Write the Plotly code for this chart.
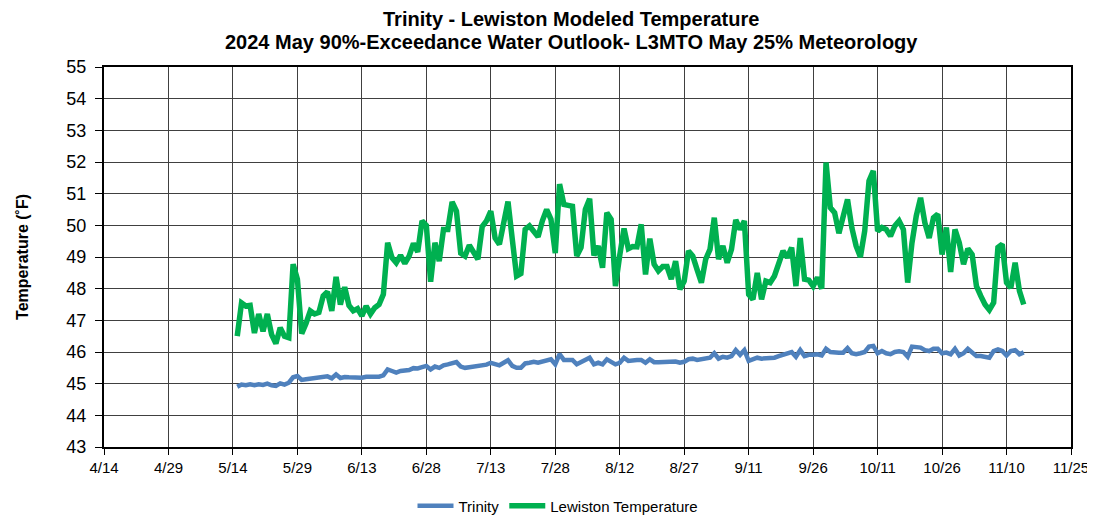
import pandas as pd
import plotly.graph_objects as go

# daily model output, 2024-05-15 .. 2024-11-14
start_date = "2024-05-15"
end_date = "2024-11-14"

trinity = [
    44.90, 44.97, 44.95, 44.98, 44.95, 44.98, 44.96, 45.00, 44.95, 44.93,
    45.01, 44.97, 45.03, 45.20, 45.24, 45.12, 45.14, 45.16, 45.16, 45.18,
    45.21, 45.23, 45.17, 45.29, 45.18, 45.21, 45.20, 45.19, 45.18, 45.19,
    45.22, 45.22, 45.21, 45.22, 45.26, 45.45, 45.40, 45.35, 45.40, 45.41,
    45.43, 45.49, 45.48, 45.52, 45.56, 45.45, 45.54, 45.50, 45.58, 45.61,
    45.66, 45.68, 45.54, 45.50, 45.52, 45.54, 45.56, 45.61, 45.60, 45.66,
    45.61, 45.58, 45.66, 45.74, 45.56, 45.50, 45.50, 45.64, 45.66, 45.69,
    45.66, 45.69, 45.72, 45.77, 45.61, 45.93, 45.75, 45.75, 45.75, 45.61,
    45.68, 45.77, 45.82, 45.61, 45.66, 45.61, 45.77, 45.69, 45.61, 45.66,
    45.82, 45.72, 45.75, 45.75, 45.75, 45.66, 45.77, 45.68, 45.68, 45.68,
    45.68, 45.69, 45.70, 45.66, 45.69, 45.77, 45.79, 45.75, 45.77, 45.82,
    45.82, 45.96, 45.79, 45.85, 45.82, 45.87, 46.06, 45.91, 46.06, 45.72,
    45.77, 45.82, 45.79, 45.80, 45.82, 45.82, 45.87, 45.91, 45.93, 46.00,
    45.85, 46.06, 45.87, 45.91, 45.91, 45.93, 45.89, 46.10, 46.00, 45.98,
    45.98, 45.98, 46.12, 45.96, 45.93, 45.96, 46.00, 46.17, 46.19, 45.96,
    46.03, 45.96, 45.93, 46.00, 46.02, 46.00, 45.85, 46.17, 46.17, 46.14,
    46.06, 46.03, 46.10, 46.10, 45.96, 45.98, 45.93, 46.10, 45.89, 45.96,
    46.10, 45.98, 45.87, 45.87, 45.85, 45.82, 46.03, 46.08, 46.03, 45.89,
    46.03, 46.06, 45.93, 45.99,
]

lewiston = [
    46.50, 47.55, 47.45, 47.47, 46.60, 47.20, 46.65, 47.20, 46.55, 46.27,
    46.77, 46.50, 46.45, 48.77, 48.30, 46.58, 46.90, 47.30, 47.20, 47.25,
    47.77, 47.90, 47.30, 48.37, 47.50, 48.05, 47.47, 47.30, 47.37, 47.14,
    47.45, 47.20, 47.40, 47.50, 47.82, 49.45, 48.98, 48.82, 49.05, 48.80,
    49.03, 49.43, 49.16, 50.14, 50.00, 48.22, 49.45, 48.87, 49.87, 49.87,
    50.74, 50.45, 49.12, 49.03, 49.37, 49.14, 48.93, 49.96, 50.14, 50.45,
    49.60, 49.40, 50.10, 50.75, 49.56, 48.40, 48.48, 49.87, 49.98, 49.82,
    49.64, 50.14, 50.50, 50.19, 49.12, 51.30, 50.66, 50.63, 50.60, 49.03,
    49.30, 50.50, 50.84, 49.05, 49.35, 48.66, 50.40, 50.19, 48.08, 49.05,
    49.90, 49.26, 49.33, 49.32, 50.03, 48.45, 49.58, 48.77, 48.56, 48.70,
    48.70, 48.30, 48.87, 47.98, 48.24, 49.19, 49.03, 48.60, 48.19, 48.93,
    49.24, 50.24, 48.93, 49.35, 48.82, 49.24, 50.17, 49.87, 50.14, 47.82,
    47.66, 48.50, 47.66, 48.24, 48.19, 48.40, 48.82, 49.19, 48.98, 49.30,
    48.08, 49.60, 48.30, 48.27, 48.08, 48.35, 48.00, 51.98, 50.56, 50.40,
    49.75, 50.24, 50.82, 49.93, 49.35, 49.00, 49.82, 51.40, 51.72, 49.82,
    49.93, 49.87, 49.66, 49.98, 50.14, 49.87, 48.19, 49.45, 50.30, 50.87,
    50.08, 49.60, 50.24, 50.35, 49.08, 49.93, 48.53, 49.87, 49.45, 48.77,
    49.26, 49.08, 48.08, 47.77, 47.50, 47.33, 47.56, 49.30, 49.40, 48.19,
    48.03, 48.82, 47.93, 47.50,
]

title_lines = [
    "Trinity - Lewiston Modeled Temperature",
    "2024 May 90%-Exceedance Water Outlook- L3MTO May 25% Meteorology",
]

dates = pd.date_range(start_date, end_date, freq="D")

fig = go.Figure()
fig.add_trace(go.Scatter(x=dates, y=trinity, name="Trinity", mode="lines",
                         line=dict(color="#4F81BD", width=4.5)))
fig.add_trace(go.Scatter(x=dates, y=lewiston, name="Lewiston Temperature", mode="lines",
                         line=dict(color="#00B050", width=5.5)))

# page body has an 8px margin, so the figure is a bit smaller than the window
W, H = 1087, 508
ml, mr, mt, mb = 96, 24, 59, 69
plot_h = H - mt - mb
plot_w = W - ml - mr

# title as two annotations (centred at x=563 in figure px)
for line, yc in zip(title_lines, [11, 34]):
    fig.add_annotation(
        text=f"<b>{line}</b>", showarrow=False,
        xref="paper", yref="paper",
        x=(563 - ml) / plot_w, y=(H - mb - yc) / plot_h,
        xanchor="center", yanchor="middle",
        font=dict(size=20),
    )

fig.update_layout(
    width=W, height=H,
    margin=dict(l=ml, r=mr, t=mt, b=mb, autoexpand=False),
    paper_bgcolor="white", plot_bgcolor="white",
    font=dict(family="Liberation Sans, Arial", color="black"),
    showlegend=True,
    legend=dict(orientation="h", xref="container", yref="container",
                x=550 / W, xanchor="center", y=10 / H, yanchor="middle",
                font=dict(size=15), itemwidth=36),
)

fig.update_xaxes(
    type="date",
    range=["2024-04-14", "2024-11-25"],
    tick0="2024-04-14", dtick=15 * 86400000,
    tickformat="%-m/%-d",
    tickfont=dict(size=15),
    automargin=False,
    showgrid=True, gridcolor="#404040", gridwidth=1,
    showline=True, linecolor="black", linewidth=2, mirror=True,
    ticks="outside", ticklen=6, tickcolor="black",
    zeroline=False,
)
fig.update_yaxes(
    range=[43, 55], dtick=1,
    tickfont=dict(size=18),
    ticklabelstandoff=5,
    automargin=False,
    title=dict(text="<b>Temperature (˚F)</b>", font=dict(size=16), standoff=34),
    showgrid=True, gridcolor="#404040", gridwidth=1,
    showline=True, linecolor="black", linewidth=2, mirror=True,
    ticks="outside", ticklen=7, tickcolor="black",
    zeroline=False,
)

fig.write_html("out.html")
